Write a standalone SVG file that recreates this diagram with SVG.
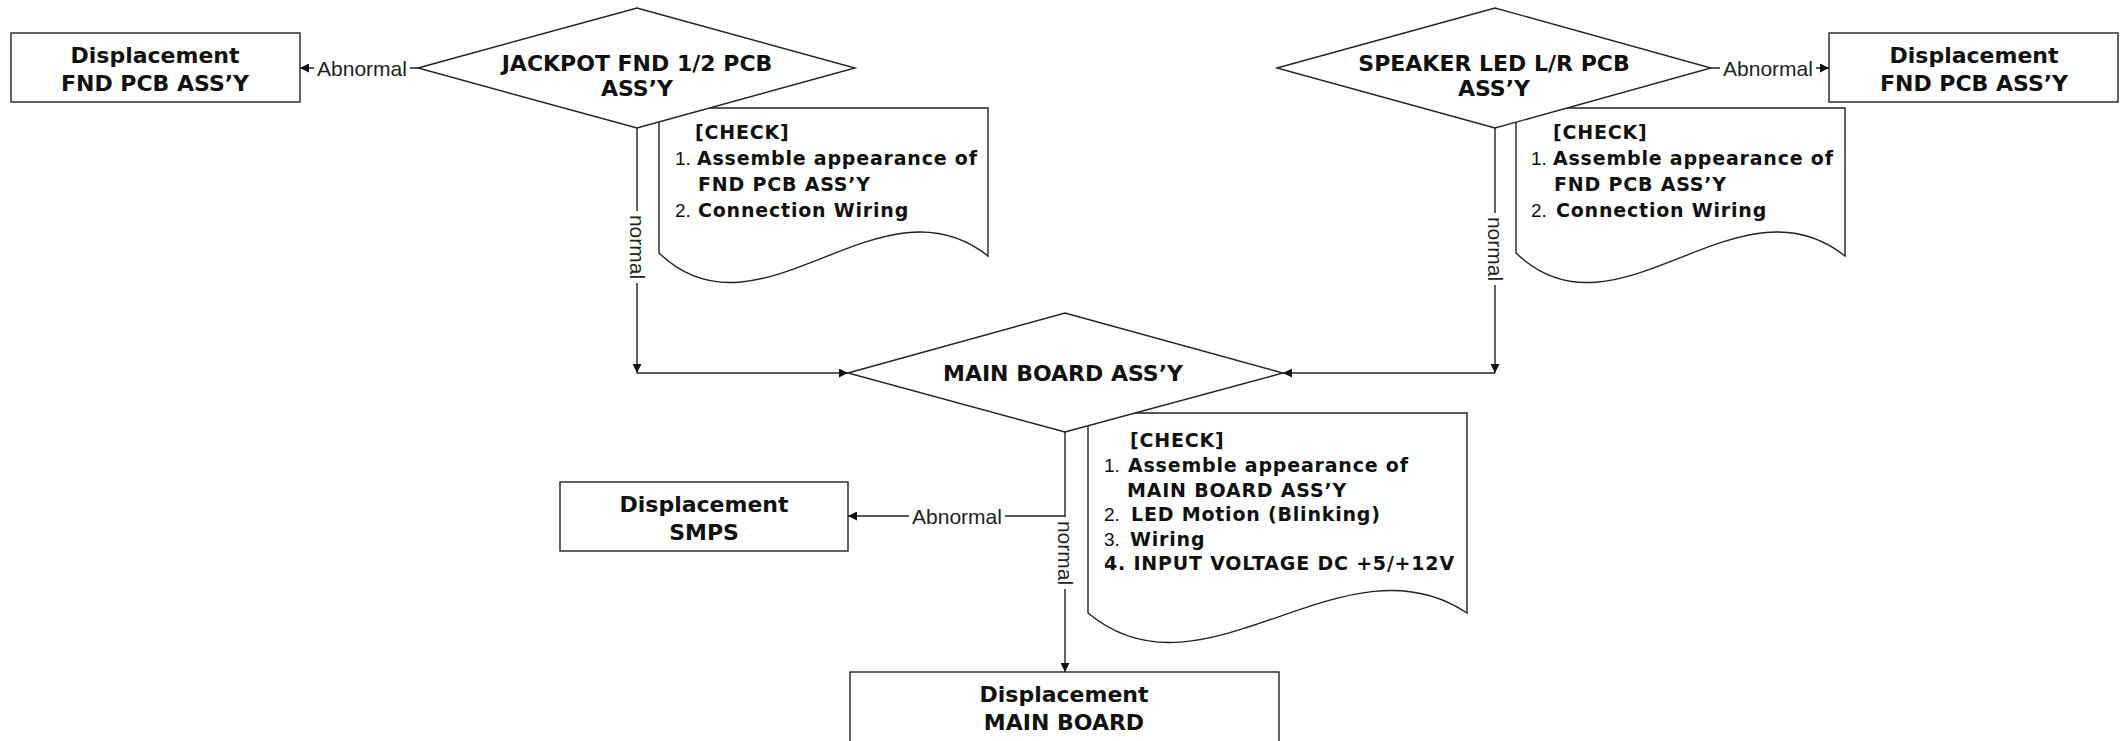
<svg xmlns="http://www.w3.org/2000/svg" width="2127" height="741" viewBox="0 0 2127 741">
<defs>
<marker id="arr" viewBox="0 0 10 10" refX="10" refY="5" markerWidth="10" markerHeight="9" markerUnits="userSpaceOnUse" orient="auto">
<path d="M0,0 L10,5 L0,10 z" fill="#111"/>
</marker>
<style>
.shape{fill:#fff;stroke:#222;stroke-width:1.4}
.line{fill:none;stroke:#222;stroke-width:1.4}
.title{font-family:"DejaVu Sans",sans-serif;font-weight:bold;font-size:22px;fill:#111;text-anchor:middle}
.chk{font-family:"DejaVu Sans",sans-serif;font-weight:bold;font-size:19px;fill:#111;letter-spacing:0.8px}
.num{font-family:"Liberation Sans",sans-serif;font-weight:normal;font-size:19px;fill:#111}
.lbl{font-family:"Liberation Sans",sans-serif;font-size:21px;fill:#222;text-anchor:middle}
</style>
</defs>
<rect width="2127" height="741" fill="#fff"/>

<g id="check-jackpot">
<path class="shape" d="M659,108 H988 V256 C880,170 760,350 659,253 Z"/>
<text class="chk" x="695" y="139">[CHECK]</text>
<text x="675" y="165"><tspan class="num">1.</tspan><tspan class="chk" x="697">Assemble appearance of</tspan></text>
<text class="chk" x="698" y="191">FND PCB ASS’Y</text>
<text x="675" y="217"><tspan class="num">2.</tspan><tspan class="chk" x="698">Connection Wiring</tspan></text>
</g>

<g id="check-speaker">
<path class="shape" d="M1516,108 H1845 V256 C1737,170 1617,350 1516,253 Z"/>
<text class="chk" x="1553" y="139">[CHECK]</text>
<text x="1531" y="165"><tspan class="num">1.</tspan><tspan class="chk" x="1553">Assemble appearance of</tspan></text>
<text class="chk" x="1554" y="191">FND PCB ASS’Y</text>
<text x="1531" y="217"><tspan class="num">2.</tspan><tspan class="chk" x="1556">Connection Wiring</tspan></text>
</g>

<g id="check-main">
<path class="shape" d="M1088,413 H1467 V613 C1343,530 1204,710 1088,613 Z"/>
<text class="chk" x="1130" y="447">[CHECK]</text>
<text x="1104" y="472"><tspan class="num">1.</tspan><tspan class="chk" x="1128">Assemble appearance of</tspan></text>
<text class="chk" x="1127" y="497">MAIN BOARD ASS’Y</text>
<text x="1104" y="521"><tspan class="num">2.</tspan><tspan class="chk" x="1131">LED Motion (Blinking)</tspan></text>
<text x="1104" y="546"><tspan class="num">3.</tspan><tspan class="chk" x="1130">Wiring</tspan></text>
<text class="chk" x="1104" y="570">4. INPUT VOLTAGE DC +5/+12V</text>
</g>

<g id="connectors">
<line class="line" x1="418" y1="68" x2="300" y2="68" marker-end="url(#arr)"/>
<line class="line" x1="637" y1="128" x2="637" y2="373" marker-end="url(#arr)"/>
<line class="line" x1="637" y1="373" x2="848" y2="373" marker-end="url(#arr)"/>
<line class="line" x1="1711" y1="68" x2="1829" y2="68" marker-end="url(#arr)"/>
<line class="line" x1="1495" y1="128" x2="1495" y2="373" marker-end="url(#arr)"/>
<line class="line" x1="1495" y1="373" x2="1283" y2="373" marker-end="url(#arr)"/>
<line class="line" x1="1065" y1="432" x2="1065" y2="672" marker-end="url(#arr)"/>
<polyline class="line" points="1065,516 848,516" marker-end="url(#arr)"/>
<rect x="314" y="56" width="96" height="24" fill="#fff"/>
<text class="lbl" x="362" y="76">Abnormal</text>
<rect x="1720" y="56" width="96" height="24" fill="#fff"/>
<text class="lbl" x="1768" y="76">Abnormal</text>
<rect x="909" y="504" width="96" height="24" fill="#fff"/>
<text class="lbl" x="957" y="524">Abnormal</text>
<rect x="625" y="211" width="24" height="72" fill="#fff"/>
<text class="lbl" transform="translate(637,247) rotate(90)" y="7">normal</text>
<rect x="1483" y="213" width="24" height="72" fill="#fff"/>
<text class="lbl" transform="translate(1495,249) rotate(90)" y="7">normal</text>
<rect x="1053" y="517" width="24" height="72" fill="#fff"/>
<text class="lbl" transform="translate(1065,553) rotate(90)" y="7">normal</text>
</g>

<g id="box-left">
<rect class="shape" x="11" y="33" width="289" height="69"/>
<text class="title" x="155" y="63">Displacement</text>
<text class="title" x="155" y="91">FND PCB ASS’Y</text>
</g>

<g id="box-right">
<rect class="shape" x="1829" y="33" width="289" height="69"/>
<text class="title" x="1974" y="63">Displacement</text>
<text class="title" x="1974" y="91">FND PCB ASS’Y</text>
</g>

<g id="box-smps">
<rect class="shape" x="560" y="482" width="288" height="69"/>
<text class="title" x="704" y="512">Displacement</text>
<text class="title" x="704" y="540">SMPS</text>
</g>

<g id="box-mainboard">
<rect class="shape" x="850" y="672" width="429" height="90"/>
<text class="title" x="1064" y="702">Displacement</text>
<text class="title" x="1064" y="730">MAIN BOARD</text>
</g>

<g id="diamond-jackpot">
<polygon class="shape" points="418,68 637,8 855,68 637,128"/>
<text class="title" x="637" y="71">JACKPOT FND 1/2 PCB</text>
<text class="title" x="637" y="96">ASS’Y</text>
</g>

<g id="diamond-speaker">
<polygon class="shape" points="1277,68 1495,8 1711,68 1495,128"/>
<text class="title" x="1494" y="71">SPEAKER LED L/R PCB</text>
<text class="title" x="1494" y="96">ASS’Y</text>
</g>

<g id="diamond-main">
<polygon class="shape" points="848,373 1065,313 1283,373 1065,432"/>
<text class="title" x="1063" y="381">MAIN BOARD ASS’Y</text>
</g>
</svg>
